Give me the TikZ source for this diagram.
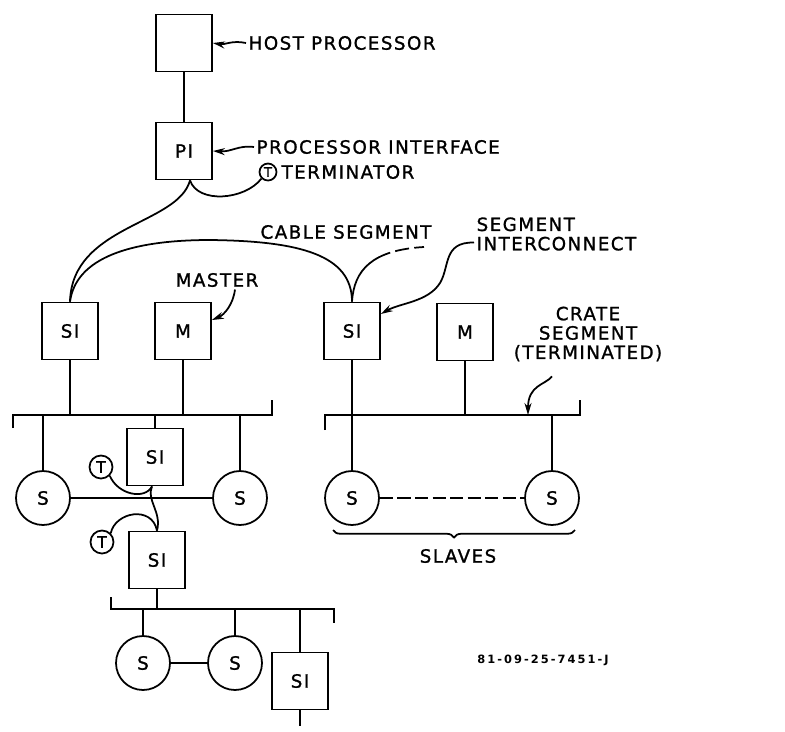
\documentclass[tikz,border=0pt]{standalone}
\usepackage{fontspec}
\usepackage{tikz}
\usetikzlibrary{arrows.meta,decorations.pathreplacing}
\newfontfamily\lettering[LetterSpace=8,FakeBold=1.2]{DejaVu Sans}
\newfontfamily\stamping[LetterSpace=18]{DejaVu Sans}

\begin{document}
\begin{tikzpicture}[
    x=0.02cm, y=-0.02cm,
    line width=1pt,
    font=\lettering\fontsize{10.4}{11}\selectfont,
    unit/.style={draw, minimum width=1.12cm, minimum height=1.14cm, inner sep=0pt},
    slave/.style={draw, circle, minimum size=1.08cm, inner sep=0pt},
    term/.style={draw, circle, minimum size=0.34cm, inner sep=0pt, font=\lettering\fontsize{7.5}{8}\selectfont},
    bigterm/.style={term, minimum size=0.46cm, font=\lettering\fontsize{9}{10}\selectfont},
    lbl/.style={inner sep=1pt},
    ptr/.style={-{Stealth[length=2.4mm,width=1.4mm]}}
]
\useasboundingbox (0,0) rectangle (785,731);

% host and processor interface
\node[unit] (host) at (184,43) {};
\node[unit] (pi) at (184,151) {PI};
\node[term] (t1) at (268,172) {T};

\node[lbl, anchor=west] (hostlbl) at (246,43) {HOST PROCESSOR};
\node[lbl, anchor=west] (pilbl) at (254,147) {PROCESSOR INTERFACE};
\node[lbl, anchor=west] (termlbl) at (279,172) {TERMINATOR};

% first crate
\node[unit] (si1) at (70,331) {SI};
\node[unit] (m1) at (183,331) {M};
\node[lbl] (masterlbl) at (217,280) {MASTER};

\coordinate (b1w) at (13,415);
\coordinate (b1e) at (272,415);

\node[slave] (s1) at (43,498) {S};
\node[slave] (s2) at (240,498) {S};
\node[unit] (si3) at (155,457) {SI};
\node[bigterm] (t2) at (101,467) {T};
\node[bigterm] (t3) at (102,542) {T};
\node[unit] (si4) at (157,560) {SI};

% third crate
\coordinate (b3w) at (111,609);
\coordinate (b3e) at (334,609);
\node[slave] (s3) at (143,663) {S};
\node[slave] (s4) at (235,663) {S};
\node[unit] (si5) at (300,681) {SI};
\coordinate (si5out) at (300,726);

% second crate
\node[unit] (si2) at (352,331) {SI};
\node[unit] (m2) at (465,332) {M};
\coordinate (b2w) at (325,415);
\coordinate (b2e) at (580,415);
\coordinate (b2tap) at (528,415);
\node[slave] (s5) at (352,498) {S};
\node[slave] (s6) at (552,498) {S};

\node[lbl] (cablelbl) at (346,232) {CABLE SEGMENT};
\node[lbl, anchor=west, align=left] (silbl) at (474,234) {SEGMENT\\INTERCONNECT};
\node[lbl, align=center] (cratelbl) at (588,334) {CRATE\\SEGMENT\\(TERMINATED)};
\node[lbl] (slaveslbl) at (458,556) {SLAVES};
\node[lbl, font=\stamping\bfseries\fontsize{6.5}{7}\selectfont] (docnum) at (543,660) {81-09-25-7451-J};

% pointers
\draw[ptr] (hostlbl.west) .. controls (232,40) and (225,45) .. (host.east);
\draw[ptr] (pilbl.west) .. controls (238,145) and (232,152) .. (pi.east);
\draw[ptr] ([xshift=0.36cm]masterlbl.south) .. controls (233,305) and (224,315) .. ([yshift=0.22cm]m1.east);
\draw[ptr] ([yshift=-0.17cm]silbl.west) .. controls (443,242) and (450,266) .. (440,283)
    .. controls (428,302) and (400,303) .. ([yshift=0.34cm]si2.east);
\draw[ptr] ([xshift=-0.72cm,yshift=-0.25cm]cratelbl.south) .. controls (545,385) and (528,385) .. (b2tap);

% cables
\draw (host) -- (pi);
\draw ([xshift=0.12cm]pi.south) .. controls (198,204) and (245,200) .. (t1.south west);
\draw ([xshift=0.12cm]pi.south) .. controls (178,225) and (72,225) .. (si1.north);
\draw (si1.north) .. controls (76,258) and (130,240) .. (210,240)
    .. controls (300,241) and (352,255) .. (si2.north);
\draw[dash pattern=on 38pt off 3pt on 8pt off 3pt on 8pt off 30pt] (si2.north) .. controls (354,270) and (372,250) .. (424,247);

% first crate bus
\draw (b1w) ++(0,13) -- (b1w) -- (b1e) -- ++(0,-15);
\draw (si1.south) -- (si1.south |- b1w);
\draw (m1.south) -- (m1.south |- b1w);
\draw (s1.north) -- (s1.north |- b1w);
\draw (s2.north) -- (s2.north |- b1w);
\draw (si3.north) -- (si3.north |- b1w);
\draw (s1) -- (s2);
\draw (t2.south east) .. controls (118,495) and (145,500) .. ([xshift=-0.06cm]si3.south);
\draw ([xshift=-0.06cm]si3.south) .. controls (146,500) and (162,512) .. (si4.north);
\draw (t3.north east) .. controls (115,512) and (152,505) .. (si4.north);

% third crate bus
\draw (si4.south) -- (si4.south |- b3w);
\draw (b3w) ++(0,-12) -- (b3w) -- (b3e) -- ++(0,14);
\draw (s3.north) -- (s3.north |- b3w);
\draw (s4.north) -- (s4.north |- b3w);
\draw (si5.north) -- (si5.north |- b3w);
\draw (s3) -- (s4);
\draw (si5.south) -- (si5out);

% second crate bus
\draw (b2w) ++(0,15) -- (b2w) -- (b2e) -- ++(0,-15);
\draw (si2.south) -- (si2.south |- b2w);
\draw (m2.south) -- (m2.south |- b2w);
\draw (s5.north) -- (s5.north |- b2w);
\draw (s6.north) -- (s6.north |- b2w);
\draw[dash pattern=on 7.5pt off 2.5pt] (s5) -- (s6);
\draw[decorate, decoration={brace, mirror, amplitude=0.15cm}] (333,530) -- (575,530);

\end{tikzpicture}
\end{document}
